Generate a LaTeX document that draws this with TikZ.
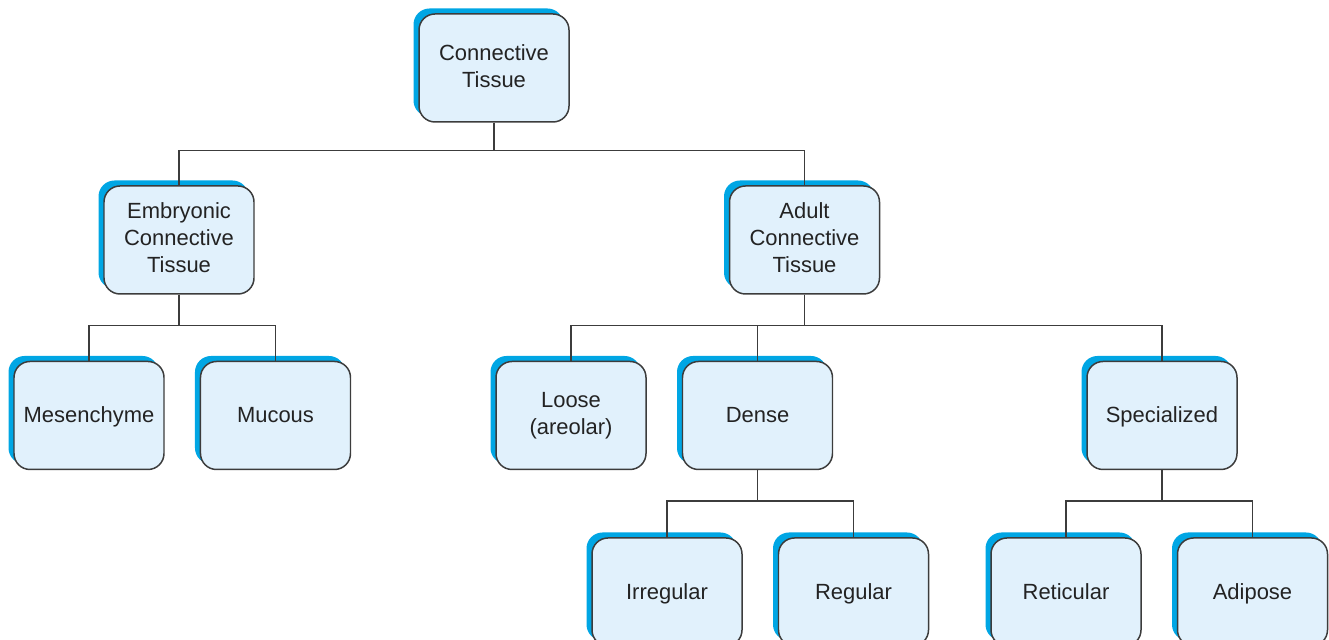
\documentclass[tikz,border=0pt]{standalone}
\usepackage{fontspec}
\setmainfont{Liberation Sans}
\usepackage{tikz}
\usetikzlibrary{positioning,shadows}
\usepackage{xcolor}
\definecolor{ink}{RGB}{35,35,35}
\definecolor{edge}{RGB}{60,60,60}
\definecolor{boxfill}{RGB}{225,241,252}
\definecolor{rim}{RGB}{0,166,228}
\tikzset{
  tissue/.style={draw=edge,line width=0.85pt,rounded corners=0.32cm,fill=boxfill,
    minimum width=3cm,minimum height=2.16cm,inner sep=2pt,align=center,
    text=ink,font=\fontsize{12.5}{15.3}\selectfont,
    execute at begin node=\rule{0pt}{10.7pt},
    execute at end node=\rule[-2.6pt]{0pt}{2.6pt},
    general shadow={fill=rim,draw=none,shadow xshift=-0.11cm,shadow yshift=0.11cm}},
  link/.style={draw=edge,line width=0.85pt},
}

\begin{document}
\begin{tikzpicture}
  \useasboundingbox (0,0) rectangle (26.58,-12.8);
  % top
  \node[tissue] (ct) at (9.88,-1.36) {Connective\\Tissue};
  \node[tissue] (emb) at (3.58,-4.80) {Embryonic\\Connective\\Tissue};
  \node[tissue] (adult) at (16.09,-4.80) {Adult\\Connective\\Tissue};
  % second level
  \node[tissue] (mes) at (1.78,-8.31) {Mesenchyme};
  \node[tissue,right=0.7cm of mes] (muc) {Mucous};
  \node[tissue] (loose) at (11.42,-8.31) {Loose\\(areolar)};
  \node[tissue,right=0.7cm of loose] (dense) {Dense};
  \node[tissue] (spec) at (23.24,-8.31) {Specialized};
  % bottom row
  \node[tissue] (irr) at (13.34,-11.84) {Irregular};
  \node[tissue,right=0.7cm of irr] (reg) {Regular};
  \node[tissue] (ret) at (21.32,-11.84) {Reticular};
  \node[tissue,right=0.7cm of ret] (adi) {Adipose};
  % tree lines
  \draw[link] (ct.south) -- ++(0,-0.56) -| (emb.north);
  \draw[link] (ct.south) -- ++(0,-0.56) -| (adult.north);
  \draw[link] (emb.south) -- ++(0,-0.62) -| (mes.north);
  \draw[link] (emb.south) -- ++(0,-0.62) -| (muc.north);
  \draw[link] (adult.south) -- ++(0,-0.62) -| (loose.north);
  \draw[link] (adult.south) -- ++(0,-0.62) -| (dense.north);
  \draw[link] (adult.south) -- ++(0,-0.62) -| (spec.north);
  \draw[link] (dense.south) -- ++(0,-0.62) -| (irr.north);
  \draw[link] (dense.south) -- ++(0,-0.62) -| (reg.north);
  \draw[link] (spec.south) -- ++(0,-0.62) -| (ret.north);
  \draw[link] (spec.south) -- ++(0,-0.62) -| (adi.north);
\end{tikzpicture}
\end{document}
